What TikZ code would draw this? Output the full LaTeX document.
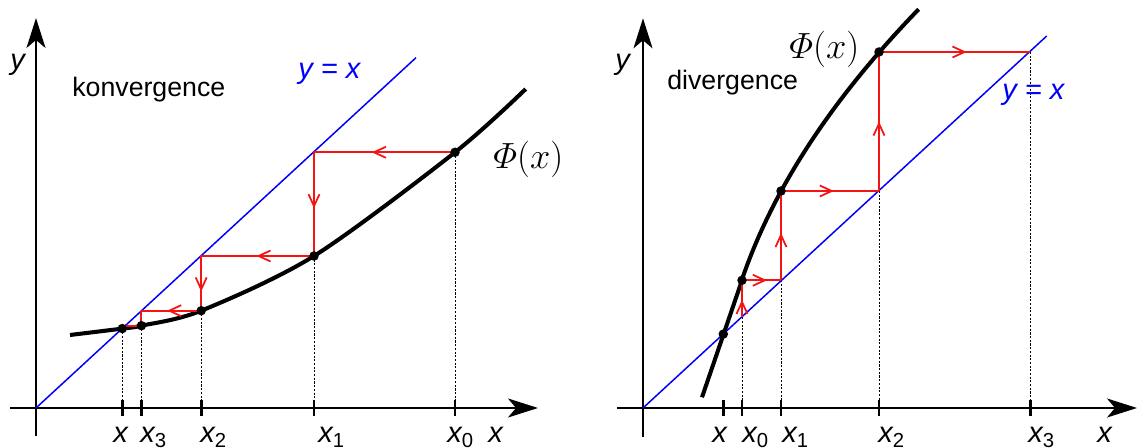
\documentclass[tikz,border=0pt]{standalone}
\usepackage[no-math]{fontspec}
\setmainfont{Liberation Sans}
\usepackage{amsmath}
\definecolor{LineBlue}{RGB}{0,0,250}
\definecolor{StepRed}{RGB}{245,20,20}
\usetikzlibrary{positioning,arrows.meta,decorations.markings}
\tikzset{>={Stealth[length=6mm,width=3.8mm,inset=1.6mm]}}
\tikzset{myaxis/.style={line width=1.1pt,->}}
\tikzset{mycurve/.style={line width=2.3pt,line join=round}}
\tikzset{mydiag/.style={LineBlue,line width=0.85pt}}
\tikzset{mystep/.style={StepRed,line width=1.2pt}}
\tikzset{midarrow/.style={postaction={decorate,decoration={markings,mark=at position #1 with {\arrow{Straight Barb[length=2.4mm,width=2.2mm,line width=1pt]}}}}},midarrow/.default=0.55}
\tikzset{mydot/.style={circle,fill,inner sep=0pt,minimum size=0.19cm}}
\tikzset{mydrop/.style={line width=0.5pt,dash pattern=on 1.2pt off 0.9pt}}
\tikzset{mytick/.style={line width=1.7pt}}
\tikzset{mylabel/.style={anchor=base west,inner sep=0pt,font=\fontsize{16.5}{17}\selectfont\itshape}}
\tikzset{mytext/.style={anchor=base west,inner sep=0pt,font=\fontsize{15.2}{16}\selectfont}}
\tikzset{myphi/.style={anchor=base west,inner sep=0pt,font=\fontsize{20}{20}\selectfont}}
\newcommand{\idx}[1]{\textsubscript{\upshape #1}}

\begin{document}
\begin{tikzpicture}[x=0.02cm,y=-0.02cm]
                \useasboundingbox (0,0) rectangle (1137,448);
                % konvergence
                \coordinate (lo) at (36,408);
                \coordinate (le) at (416,57.7);
                \coordinate (lf) at (122.3,328.6);
                \coordinate (lp3) at (141.4,325.7);
                \coordinate (lp2) at (201.2,310.7);
                \coordinate (lp1) at (314,256);
                \coordinate (lp0) at (455,152.3);
                \coordinate (lc1) at (lp1 |- lp0);
                \coordinate (lc2) at (lp2 |- lp1);
                \coordinate (lc3) at (lp3 |- lp2);
                \coordinate (lc4) at (125.5,325.7);
                \foreach \c in {lf,lp3,lp2,lp1,lp0} \draw[mydrop] (\c) -- (\c |- lo);
                \foreach \t in {122.3,141.4,201.2,314,455} \draw[mytick] (\t,400) -- (\t,416);
                \draw[myaxis] (10,408) -- (538,408);
                \draw[myaxis] (36,436) -- (36,18);
                \draw[mydiag] (lo) -- (le);
                \draw[mycurve] plot[smooth] coordinates {(70,335) (lf) (lp3) (lp2) (lp1) (lp0) (525.7,89)};
                \draw[mystep,midarrow=0.59] (lp0) -- (lc1);
                \draw[mystep,midarrow=0.54] (lc1) -- (lp1);
                \draw[mystep,midarrow=0.51] (lp1) -- (lc2);
                \draw[mystep,midarrow=0.65] (lc2) -- (lp2);
                \draw[mystep,midarrow=0.57] (lp2) -- (lc3);
                \draw[mystep] (lc3) -- (lp3) -- (lc4);
                \foreach \c in {lf,lp3,lp2,lp1,lp0} \node[mydot] at (\c) {};
                \node[mytext] (konv) at (72,97) {konvergence};
                \node[mylabel,LineBlue] (ldiag) at (298,79) {y = x};
                \node[myphi] (lphi) at (493,169) {$\varPhi(x)$};
                \node[mylabel] (ly) at (10,70) {y};
                \node[mylabel] (lx) at (113,443) {x};
                \node[mylabel] (lx3) at (140,443) {x\idx{3}};
                \node[mylabel] (lx2) at (200,443) {x\idx{2}};
                \node[mylabel] (lx1) at (318,443) {x\idx{1}};
                \node[mylabel] (lx0) at (447,443) {x\idx{0}};
                \node[mylabel] (lxa) at (488,443) {x};
                % divergence
                \coordinate (ro) at (643,408);
                \coordinate (re) at (1046.7,36);
                \coordinate (rf) at (723.3,334.1);
                \coordinate (rc0) at (742,317.2);
                \coordinate (rp0) at (742,280.3);
                \coordinate (rc1) at (781,280.3);
                \coordinate (rp1) at (781,191);
                \coordinate (rc2) at (879,191);
                \coordinate (rp2) at (879,52);
                \coordinate (rc3) at (1030,52);
                \foreach \c in {rc0,rc1,rc2,rc3} \draw[mydrop] (\c) -- (\c |- ro);
                \foreach \t in {723.3,742,781,879,1030} \draw[mytick] (\t,400) -- (\t,416);
                \draw[myaxis] (617,408) -- (1137,408);
                \draw[myaxis] (643,436.7) -- (643,18.3);
                \draw[mydiag] (ro) -- (re);
                \draw[mycurve] (702,397.3) -- (rp0) -- plot[domain=127.7:398.7,samples=40] ({717.4+0.0423*\x+0.00116*\x*\x},{408-\x});
                \draw[mystep,midarrow=0.47] (rc0) -- (rp0);
                \draw[mystep,midarrow=0.64] (rp0) -- (rc1);
                \draw[mystep,midarrow=0.53] (rc1) -- (rp1);
                \draw[mystep,midarrow=0.54] (rp1) -- (rc2);
                \draw[mystep,midarrow=0.5] (rc2) -- (rp2);
                \draw[mystep,midarrow=0.58] (rp2) -- (rc3);
                \foreach \c in {rf,rp0,rp1,rp2} \node[mydot] at (\c) {};
                \node[mytext] (div) at (667,90) {divergence};
                \node[mylabel,LineBlue] (rdiag) at (1002,100) {y = x};
                \node[myphi] (rphi) at (789,59) {$\varPhi(x)$};
                \node[mylabel] (ry) at (615,70) {y};
                \node[mylabel] (rx) at (712,443) {x};
                \node[mylabel] (rx0) at (742,443) {x\idx{0}};
                \node[mylabel] (rx1) at (782,443) {x\idx{1}};
                \node[mylabel] (rx2) at (878,443) {x\idx{2}};
                \node[mylabel] (rx3) at (1028,443) {x\idx{3}};
                \node[mylabel] (rxa) at (1097,443) {x};
            \end{tikzpicture}
\end{document}
